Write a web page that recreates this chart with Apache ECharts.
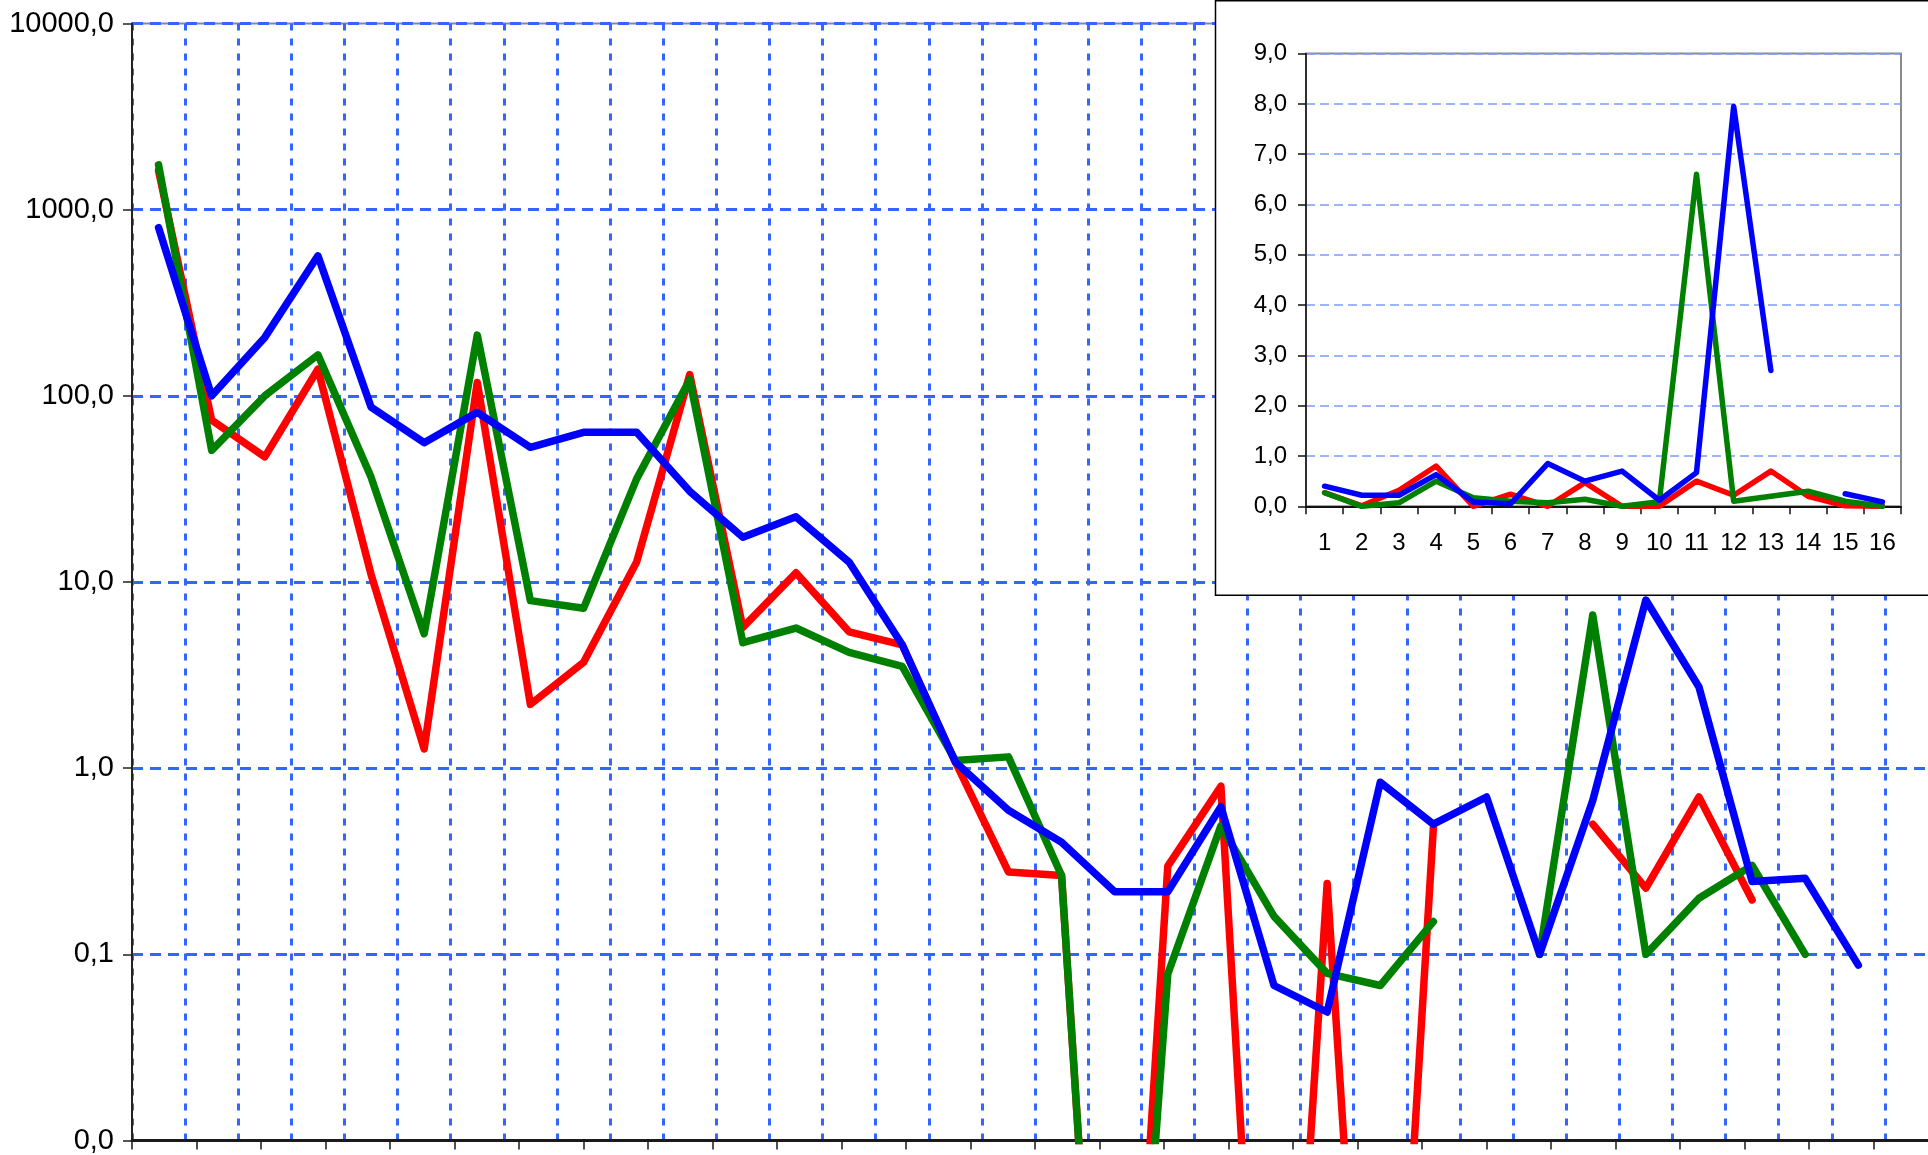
<!DOCTYPE html>
<html>
<head>
<meta charset="utf-8">
<script src="https://cdn.jsdelivr.net/npm/echarts@6/dist/echarts.min.js"></script>
<style>
html,body{margin:0;padding:0;background:#fff;overflow:hidden;width:1928px;height:1155px;}
#c{width:1940px;height:1155px;}
</style>
</head>
<body>
<div id="c"></div>
<script>
// ---- main chart (log scale) ----
const mainCategories = ['1','2','3','4','5','6','7','8','9','10','11','12','13','14','15','16','17','18','19','20','21','22','23','24','25','26','27','28','29','30','31','32','33',''];
const tickCategories = ['1','2','3','4','5','6','7','8','9','10','11','12','13','14','15','16','17','18','19','20','21','22','23','24','25','26','27','28'];
const mainYTickLabels = ['0,0','0,1','1,0','10,0','100,0','1000,0','10000,0'];

// 1e-5 = zero values that fall off the bottom of the log axis
const redMain   = [1620, 74, 47, 139, 11, 1.27, 118, 2.2, 3.7, 12.8, 130, 5.7, 11.2, 5.4, 4.6, 1.08, 0.277, 0.265, 1e-5, 0.298, 0.80, 1e-5, 0.24, 1e-5, 0.48, null, null, 0.50, 0.227, 0.70, 0.196, null, null];
const greenMain = [1740, 51, 100, 166, 36.6, 5.27, 212, 7.94, 7.22, 35.8, 122, 4.72, 5.66, 4.19, 3.52, 1.1, 1.15, 0.265, 1e-5, 0.0785, 0.49, 0.16, 0.079, 0.068, 0.15, null, 0.1, 6.65, 0.1, 0.2, 0.30, 0.1, null];
const blueMain  = [800, 100, 206, 565, 87, 56, 81.5, 52.9, 63.7, 63.7, 30.7, 17.4, 22.4, 12.8, 4.6, 1.08, 0.594, 0.40, 0.217, 0.217, 0.62, 0.068, 0.049, 0.84, 0.50, 0.70, 0.1, 0.67, 8.0, 2.73, 0.246, 0.256, 0.0875];

// ---- inset chart (linear scale) ----
const insetCategories = ['1','2','3','4','5','6','7','8','9','10','11','12','13','14','15','16'];
const insetYTickLabels = ['0,0','1,0','2,0','3,0','4,0','5,0','6,0','7,0','8,0','9,0'];
const redInset   = [0.27, 0.01, 0.32, 0.80, 0, 0.24, 0, 0.47, 0, 0, 0.50, 0.22, 0.70, 0.20, 0.01, 0];
const greenInset = [0.27, 0, 0.07, 0.50, 0.17, 0.10, 0.07, 0.14, 0, 0.09, 6.6, 0.10, 0.20, 0.30, 0.10, 0];
const blueInset  = [0.40, 0.22, 0.22, 0.63, 0.087, 0.05, 0.85, 0.50, 0.70, 0.12, 0.67, 7.95, 2.70, null, 0.25, 0.087];

const FONT = '"Liberation Sans", Arial, sans-serif';
const GRID_BLUE = '#3366FF';

const chart = echarts.init(document.getElementById('c'), null, {renderer:'canvas'});

function lineSeries(name, data, color, xi, yi, width, z){
  return {
    name: name, type: 'line', data: data, xAxisIndex: xi, yAxisIndex: yi,
    showSymbol: false, symbol: 'none', connectNulls: false, clip: true,
    lineStyle: {color: color, width: width, cap: 'round', join: 'round'},
    z: z, silent: true
  };
}

const option = {
  animation: false,
  backgroundColor: '#fff',
  textStyle: {fontFamily: FONT},
  graphic: [{
    type: 'rect', z: 50,
    shape: {x: 1215.5, y: 0.75, width: 800, height: 594.5},
    style: {fill: '#fff', stroke: '#000', lineWidth: 1.5}
  }],
  grid: [
    {left: 132, top: 23.5, width: 1806, height: 1124, show: true, borderColor: '#8a8a8a', borderWidth: 2, backgroundColor: 'transparent', containLabel: false},
    {left: 1306, top: 53.6, width: 595, height: 452.7, show: true, borderColor: '#8a8a8a', borderWidth: 2, backgroundColor: 'transparent', z: 60, containLabel: false}
  ],
  xAxis: [
    {
      type: 'category', gridIndex: 0, data: mainCategories, boundaryGap: true, position: 'bottom',
      axisLine: {show: true, onZero: false, lineStyle: {color: '#1a1a1a', width: 3}},
      axisTick: {show: false}, axisLabel: {show: false},
      splitLine: {show: true, interval: 0, lineStyle: {color: GRID_BLUE, width: 3, type: [7, 8]}}
    },
    {
      type: 'category', gridIndex: 0, data: tickCategories, boundaryGap: true, position: 'bottom',
      axisLine: {show: false}, axisLabel: {show: false}, splitLine: {show: false},
      axisTick: {show: true, interval: 0, length: 9, lineStyle: {color: '#1a1a1a', width: 1.5}}
    },
    {
      type: 'category', gridIndex: 1, data: insetCategories, boundaryGap: true, position: 'bottom', z: 60,
      axisLine: {show: true, onZero: false, lineStyle: {color: '#111', width: 2}},
      axisTick: {show: true, interval: 0, length: 8, lineStyle: {color: '#111', width: 1.5}},
      axisLabel: {show: true, interval: 0, margin: 25, fontSize: 24, color: '#000', fontFamily: FONT},
      splitLine: {show: false}
    }
  ],
  yAxis: [
    {
      type: 'log', logBase: 10, gridIndex: 0, min: 0.01, max: 10000, interval: 1,
      axisLine: {show: true, lineStyle: {color: '#222', width: 2}},
      axisTick: {show: true, length: 9, lineStyle: {color: '#222', width: 1.5}},
      axisLabel: {
        show: true, margin: 18, fontSize: 29, color: '#000', fontFamily: FONT,
        formatter: function(v){ const k = Math.round(Math.log10(v)) + 2; return mainYTickLabels[k] !== undefined ? mainYTickLabels[k] : ''; }
      },
      splitLine: {show: true, lineStyle: {color: GRID_BLUE, width: 3, type: [11, 7]}}
    },
    {
      type: 'value', gridIndex: 1, min: 0, max: 9, interval: 1, z: 60,
      axisLine: {show: true, lineStyle: {color: '#111', width: 1.5}},
      axisTick: {show: true, length: 8, lineStyle: {color: '#111', width: 1.5}},
      axisLabel: {
        show: true, margin: 19, fontSize: 24, color: '#000', fontFamily: FONT,
        formatter: function(v){ const k = Math.round(v); return insetYTickLabels[k] !== undefined ? insetYTickLabels[k] : ''; }
      },
      splitLine: {show: true, lineStyle: {color: '#7f9bff', width: 1.5, type: [9, 5]}}
    }
  ],
  series: [
    lineSeries('red', redMain, '#FF0000', 0, 0, 7.5, 2),
    lineSeries('green', greenMain, '#008000', 0, 0, 7.5, 3),
    lineSeries('blue', blueMain, '#0000FF', 0, 0, 7.5, 4),
    lineSeries('red inset', redInset, '#FF0000', 2, 1, 5.5, 70),
    lineSeries('green inset', greenInset, '#008000', 2, 1, 5.5, 71),
    lineSeries('blue inset', blueInset, '#0000FF', 2, 1, 5.5, 72)
  ]
};
chart.setOption(option);
</script>
</body>
</html>
